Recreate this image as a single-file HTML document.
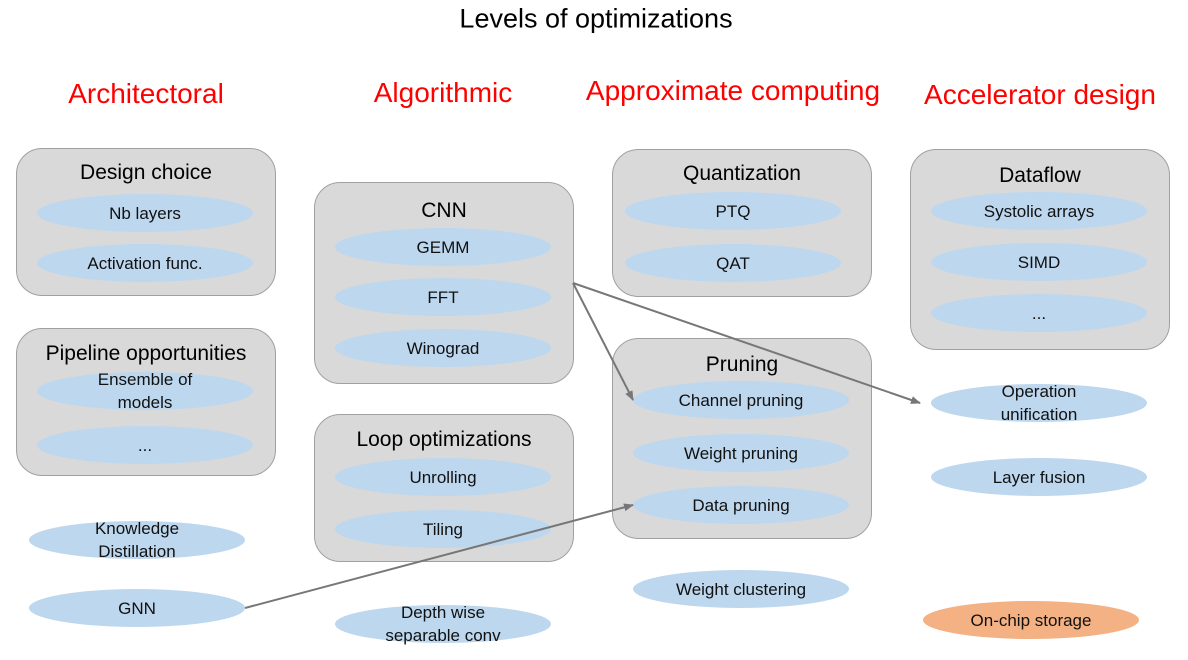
<!DOCTYPE html>
<html><head><meta charset="utf-8"><style>
body{margin:0;width:1188px;height:660px;background:#fff;position:relative;overflow:hidden;font-family:"Liberation Sans",sans-serif;}
.t{position:absolute;white-space:nowrap;transform:translate(-50%,-50%);}
.h{color:#f00;font-size:28px;}
.box{position:absolute;background:#d9d9d9;border:1px solid #a0a0a0;border-radius:26px;box-sizing:border-box;}
.bt{position:absolute;left:0;right:0;text-align:center;font-size:21px;color:#000;}
.e{position:absolute;background:#bdd7ee;border-radius:50%;display:flex;align-items:center;justify-content:center;text-align:center;font-size:17px;line-height:23px;color:#111;transform:translate(-50%,-50%);width:216px;height:38px;}
</style></head><body>
<div class="t" style="left:596px;top:19px;font-size:27px">Levels of optimizations</div>
<div class="t h" style="left:146px;top:94px">Architectoral</div>
<div class="t h" style="left:443px;top:93px">Algorithmic</div>
<div class="t h" style="left:733px;top:91px">Approximate computing</div>
<div class="t h" style="left:1040px;top:95px">Accelerator design</div>

<div class="box" style="left:16px;top:148px;width:260px;height:148px"><div class="bt" style="top:12px">Design choice</div></div>
<div class="box" style="left:16px;top:328px;width:260px;height:148px"><div class="bt" style="top:13px">Pipeline opportunities</div></div>
<div class="box" style="left:314px;top:182px;width:260px;height:202px"><div class="bt" style="top:16px">CNN</div></div>
<div class="box" style="left:314px;top:414px;width:260px;height:148px"><div class="bt" style="top:13px">Loop optimizations</div></div>
<div class="box" style="left:612px;top:149px;width:260px;height:148px"><div class="bt" style="top:12px">Quantization</div></div>
<div class="box" style="left:612px;top:338px;width:260px;height:201px"><div class="bt" style="top:14px">Pruning</div></div>
<div class="box" style="left:910px;top:149px;width:260px;height:201px"><div class="bt" style="top:14px">Dataflow</div></div>

<div class="e" style="left:145px;top:213px">Nb layers</div>
<div class="e" style="left:145px;top:263px">Activation func.</div>
<div class="e" style="left:145px;top:391px">Ensemble of<br>models</div>
<div class="e" style="left:145px;top:445px">...</div>
<div class="e" style="left:137px;top:540px">Knowledge<br>Distillation</div>
<div class="e" style="left:137px;top:608px">GNN</div>
<div class="e" style="left:443px;top:247px">GEMM</div>
<div class="e" style="left:443px;top:297px">FFT</div>
<div class="e" style="left:443px;top:348px">Winograd</div>
<div class="e" style="left:443px;top:477px">Unrolling</div>
<div class="e" style="left:443px;top:529px">Tiling</div>
<div class="e" style="left:443px;top:624px">Depth wise<br>separable conv</div>
<div class="e" style="left:733px;top:211px">PTQ</div>
<div class="e" style="left:733px;top:263px">QAT</div>
<div class="e" style="left:741px;top:400px">Channel pruning</div>
<div class="e" style="left:741px;top:453px">Weight pruning</div>
<div class="e" style="left:741px;top:505px">Data pruning</div>
<div class="e" style="left:741px;top:589px">Weight clustering</div>
<div class="e" style="left:1039px;top:211px">Systolic arrays</div>
<div class="e" style="left:1039px;top:262px">SIMD</div>
<div class="e" style="left:1039px;top:313px">...</div>
<div class="e" style="left:1039px;top:403px">Operation<br>unification</div>
<div class="e" style="left:1039px;top:477px">Layer fusion</div>
<div class="e" style="left:1031px;top:620px;background:#f4b183">On-chip storage</div>

<svg width="1188" height="660" style="position:absolute;left:0;top:0">
<defs><marker id="a" markerWidth="10" markerHeight="8" refX="9" refY="4" orient="auto" markerUnits="userSpaceOnUse"><path d="M0,0 L10,4 L0,8 z" fill="#777"/></marker></defs>
<g stroke="#777" stroke-width="2" fill="none">
<line x1="573" y1="283" x2="633" y2="400" marker-end="url(#a)"/>
<line x1="573" y1="283" x2="920" y2="403" marker-end="url(#a)"/>
<line x1="245" y1="608" x2="633" y2="505" marker-end="url(#a)"/>
</g></svg>
</body></html>
